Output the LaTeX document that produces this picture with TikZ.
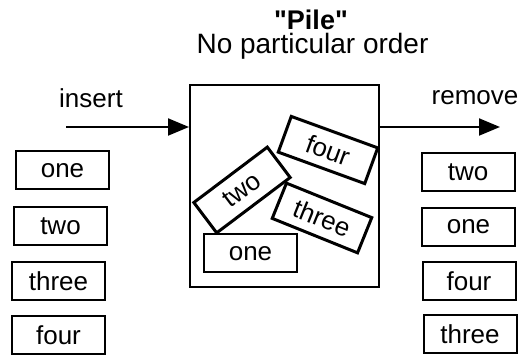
\documentclass[tikz,border=0pt]{standalone}
\usepackage{fontspec}
\setmainfont{Liberation Sans}
\usetikzlibrary{arrows.meta}
\begin{document}
\begin{tikzpicture}[x=1pt,y=-1pt,
  every node/.style={font=\fontsize{26}{30}\selectfont},
  item/.style={draw,line width=2pt,minimum width=93pt,minimum height=38pt,inner sep=0pt},
  pileitem/.style={draw,line width=3pt,minimum width=92pt,minimum height=38pt,inner sep=0pt},
  lbl/.style={inner sep=0pt},
  big/.style={font=\fontsize{28}{32}\selectfont},
  arr/.style={line width=2pt,-{Triangle[length=21pt,width=17pt]}}]
\useasboundingbox (0,0) rectangle (520,355);
% title
\node[lbl,big,font=\fontsize{27}{32}\selectfont\bfseries] (title) at (311,20) {\textquotedbl Pile\textquotedbl};
\node[lbl,big] (sub) at (312.5,46) {No particular order};
% pile box
\node[draw,line width=2pt,minimum width=189pt,minimum height=202pt,inner sep=0pt] (pile) at (284.5,186) {};
% items in pile
\node[pileitem,rotate=37] (ptwo) at (242,190) {two};
\node[pileitem,rotate=-20] (pfour) at (328,150) {four};
\node[pileitem,rotate=-22] (pthree) at (322,218) {three};
\node[item] (pone) at (250.5,253.5) {one};
% arrows and labels
\node[lbl] (ins) at (91,98) {insert};
\node[lbl] (rem) at (475,98) {remove};
\coordinate (insstart) at (66,127);
\coordinate (remend) at (500,127);
\draw[arr] (insstart) -- (insstart -| pile.west);
\draw[arr] (remend -| pile.east) -- (remend);
% left column
\node[item] (lone) at (62.5,170.5) {one};
\node[item] (ltwo) at (60.5,226.5) {two};
\node[item] (lthree) at (58.5,281.5) {three};
\node[item] (lfour) at (58.5,335) {four};
% right column
\node[item] (rtwo) at (468,172.5) {two};
\node[item] (rone) at (468.5,227) {one};
\node[item] (rfour) at (469,281) {four};
\node[item] (rthree) at (470,334) {three};
\end{tikzpicture}
\end{document}
